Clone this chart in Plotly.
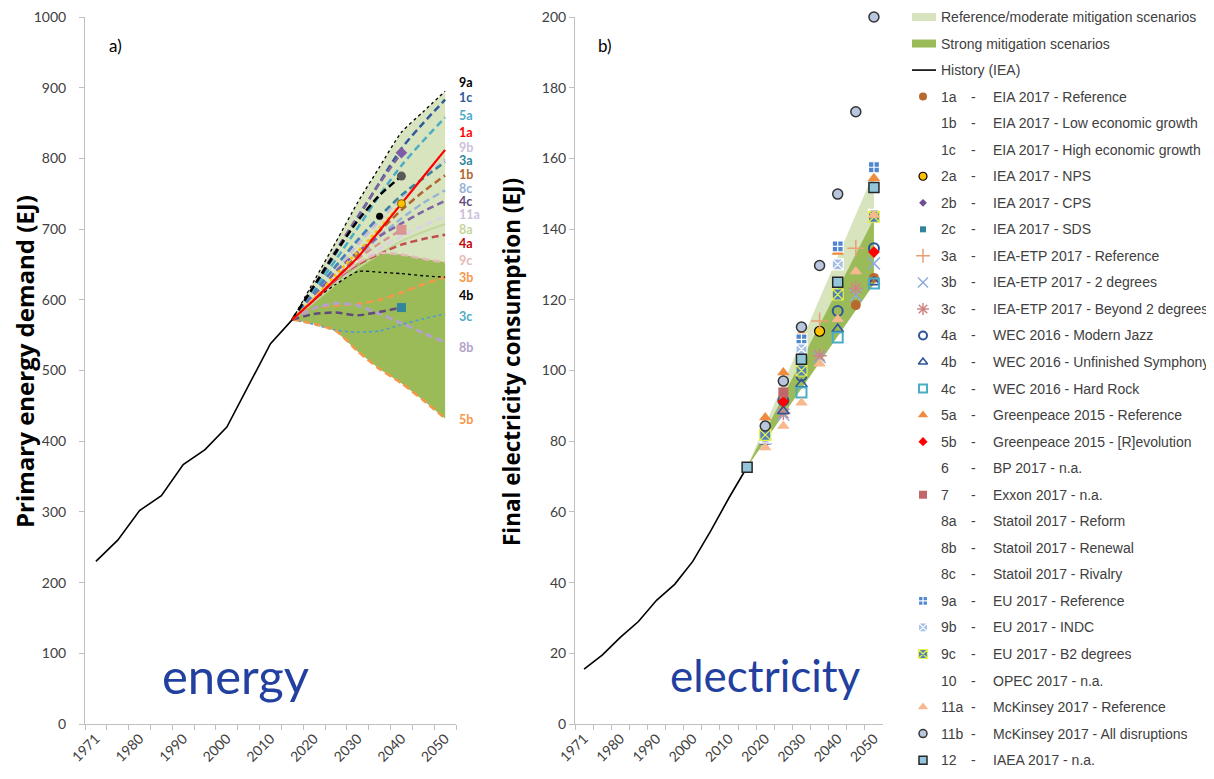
import plotly.graph_objects as go

# ---------------- data ----------------
YEARS = ['1971', '1975', '1980', '1985', '1990', '1995', '2000', '2005', '2010',
         '2015', '2020', '2025', '2030', '2035', '2040', '2045', '2050']
TICK_TEXT = [y if i % 2 == 0 else '' for i, y in enumerate(YEARS)]
HIST_YEARS = YEARS[:10]
HIST_ENERGY = [230, 260, 302, 323, 367, 388, 420, 480, 538, 572]
HIST_ELEC = [15.5, 19.5, 24.5, 29.0, 35.0, 39.5, 46.0, 54.7, 64.0, 72.7]

PROJ_YEARS = ['2015', '2020', '2025', '2030', '2035', '2040', '2045', '2050']

# primary energy demand scenarios (EJ)
E_9a = [572, 627, 682, 738, 788, 837, 866, 895]
E_1c = [572, 618, 666, 716, 766, 814, 850, 883]
E_5a = [572, 614, 657, 702, 748, 790, 825, 858]
E_1a = [572, 600, 630, 660, 698, 736, 774, 812]
E_9b = [572, 605, 642, 678, 712, 745, 772, 799]
E_3a = [572, 610, 648, 685, 718, 748, 772, 795]
E_1b = [572, 598, 630, 664, 697, 727, 753, 776]
E_8c = [572, 600, 630, 660, 690, 715, 737, 755]
E_4c = [572, 605, 640, 668, 690, 708, 725, 740]
E_11a = [572, 598, 625, 650, 672, 690, 705, 718]
E_8a = [572, 597, 622, 645, 665, 683, 696, 707]
E_4a = [572, 600, 628, 650, 665, 678, 686, 692]
E_9c = [572, 603, 630, 652, 666, 664, 658, 653]
E_3b = [572, 588, 592, 594, 600, 610, 622, 632]
E_4b = [572, 600, 622, 640, 639, 637, 634, 632]
E_3c = [572, 565, 557, 554, 556, 565, 573, 580]
E_8b = [572, 588, 595, 592, 580, 567, 553, 540]
E_5b = [572, 566, 556, 527, 502, 482, 458, 432]
E_2a = [572, 602, 636, 668, 702, 736, None, None]
E_2b = [572, 620, 670, 718, 765, 808, None, None]
E_2c = [572, 580, 582, 578, 583, 589, None, None]
E_10 = [572, 620, 668, 712, 748, 775, None, None]
E_6 = [572, 610, 648, 684, 718, None, None, None]
E_7 = [572, 600, 630, 658, 680, 699, None, None]

# final electricity consumption scenarios (EJ)
R_1a = [None, None, None, None, None, None, 118.5, 126.2]
R_2a = [None, None, None, None, 111.1, None, None, None]
R_3a = [None, None, None, None, 114.0, None, 134.6, None]
R_3b = [None, None, 87.5, None, 103.8, None, 121.3, 130.3]
R_3c = [None, None, 88.0, None, 104.2, None, 123.3, None]
R_4a = [None, 80.5, 91.5, 98.5, None, 116.8, None, 134.6]
R_4b = [None, 80.0, 88.5, 96.1, None, 111.7, None, 125.0]
R_4c = [None, None, None, 93.8, None, 109.3, None, 124.6]
R_5a = [None, 86.7, 99.4, 110.5, None, 133.5, None, 154.4]
R_5b = [None, None, 91.2, 100.8, None, None, None, 133.5]
R_7 = [None, None, 93.8, None, None, None, None, None]
R_9a = [None, None, None, 108.8, None, 135.1, None, 157.5]
R_9b = [None, 81.0, None, 106.0, None, 130.0, None, 144.0]
R_9c = [None, 81.8, None, 100.0, None, 121.5, None, 143.5]
R_11a = [None, 78.2, 84.3, 90.9, 101.9, 114.5, 128.0, 144.0]
R_11b = [None, 84.3, 97.0, 112.3, 129.7, 149.9, 173.2, 200.0]
R_12 = [72.6, None, None, 103.2, None, 125.0, None, 151.8]

BAND_YEARS = ['2015', '2050']
R_REF_UPPER = [72.7, 156.0]
R_STRONG_UPPER = [72.7, 143.0]
R_LOWER = [72.7, 124.5]

LEGEND_ITEMS = [
    ('1a', 'EIA 2017 - Reference'), ('1b', 'EIA 2017 - Low economic growth'),
    ('1c', 'EIA 2017 - High economic growth'), ('2a', 'IEA 2017 - NPS'),
    ('2b', 'IEA 2017 - CPS'), ('2c', 'IEA 2017 - SDS'),
    ('3a', 'IEA-ETP 2017 - Reference'), ('3b', 'IEA-ETP 2017 - 2 degrees'),
    ('3c', 'IEA-ETP 2017 - Beyond 2 degrees'), ('4a', 'WEC 2016 - Modern Jazz'),
    ('4b', 'WEC 2016 - Unfinished Symphony'), ('4c', 'WEC 2016 - Hard Rock'),
    ('5a', 'Greenpeace 2015 - Reference'), ('5b', 'Greenpeace 2015 - [R]evolution'),
    ('6', 'BP 2017 - n.a.'), ('7', 'Exxon 2017 - n.a.'),
    ('8a', 'Statoil 2017 - Reform'), ('8b', 'Statoil 2017 - Renewal'),
    ('8c', 'Statoil 2017 - Rivalry'), ('9a', 'EU 2017 - Reference'),
    ('9b', 'EU 2017 - INDC'), ('9c', 'EU 2017 - B2 degrees'),
    ('10', 'OPEC 2017 - n.a.'), ('11a', 'McKinsey 2017 - Reference'),
    ('11b', 'McKinsey 2017 - All disruptions'), ('12', 'IAEA 2017 - n.a.'),
]

# ---------------- layout helpers (page has an 8px body margin) ----------------
W, H = 1206, 771


def px(x):
    return (x - 8) / W


def py(y):
    return 1 - (y - 8) / H


# ---------------- styles ----------------
LIGHT_GREEN = '#D7E4BD'
DARK_GREEN = '#9BBB59'
FONT = 'Lato, Carlito, sans-serif'
TITLE_FONT = 'Open Sans, Lato, sans-serif'
LEG_FONT = 'Liberation Sans, Arial, sans-serif'
DASH = '7px,4px'

LINE_STYLE = {
    '9a': ('#000000', 'dot', 1.3), '1c': ('#2E5A9C', DASH, 2.5), '5a': ('#4BACC6', DASH, 2.5),
    '1a': ('#FF0000', 'solid', 2.2), '9b': ('#CCC0DA', DASH, 2.5), '3a': ('#31859C', DASH, 2.5),
    '1b': ('#B0662E', DASH, 2.5), '8c': ('#95B3D7', DASH, 2.5), '4c': ('#7F63A6', DASH, 2.5),
    '11a': ('#D9D2E9', DASH, 2.5), '8a': ('#C3D69B', 'solid', 2.0), '4a': ('#C0504D', DASH, 2.5),
    '9c': ('#E6B9B8', DASH, 2.5), '3b': ('#F79646', DASH, 2.5), '4b': ('#000000', 'dot', 1.3),
    '3c': ('#4F9BD5', 'dot', 1.6), '8b': ('#B3A2C7', DASH, 3.0), '5b': ('#F79646', DASH, 2.5),
    '2a': ('#FFC000', 'dot', 2.5), '2b': ('#8064A2', DASH, 2.5), '2c': ('#604A7B', DASH, 2.5),
    '10': ('#000000', DASH, 2.5), '6': ('#4F81BD', DASH, 2.2), '7': ('#D99694', DASH, 2.5),
}
ENERGY_SERIES = {
    '9a': E_9a, '1c': E_1c, '5a': E_5a, '9b': E_9b, '3a': E_3a, '1b': E_1b, '8c': E_8c,
    '4c': E_4c, '11a': E_11a, '8a': E_8a, '4a': E_4a, '9c': E_9c, '3b': E_3b, '4b': E_4b,
    '3c': E_3c, '8b': E_8b, '5b': E_5b, '2b': E_2b, '2c': E_2c, '7': E_7, '6': E_6,
    '10': E_10, '2a': E_2a, '1a': E_1a,
}

MARKERS = {
    '1a': dict(symbol='circle', color='#B7692F', size=10),
    '2a': dict(symbol='circle', color='#FFC000', size=10, line=dict(color='#000000', width=1.2)),
    '2b': dict(symbol='diamond', color='#6C4F93', size=10),
    '2c': dict(symbol='square', color='#31859C', size=9),
    '3a': dict(symbol='cross-thin-open', color='#E8A070', size=12, line=dict(color='#E8A070', width=1.5)),
    '3b': dict(symbol='x-thin-open', color='#8FAADC', size=12, line=dict(color='#8FAADC', width=1.5)),
    '3c': dict(symbol='asterisk-open', color='#D08585', size=12, line=dict(color='#D08585', width=1.5)),
    '4a': dict(symbol='circle-open', color='#2F5597', size=10, line=dict(color='#2F5597', width=2)),
    '4b': dict(symbol='triangle-up-open', color='#2F5597', size=10, line=dict(color='#2F5597', width=1.6)),
    '4c': dict(symbol='square-open', color='#4BACC6', size=10, line=dict(color='#4BACC6', width=2)),
    '5a': dict(symbol='triangle-up', color='#F08A3C', size=11),
    '5b': dict(symbol='diamond', color='#FF0000', size=9),
    '7': dict(symbol='square', color='#C0676A', size=10),
    '9a': dict(symbol='square-cross', color='#4F86CF', size=11, line=dict(color='#FFFFFF', width=1.2)),
    '9b': dict(symbol='square-x', color='#A4BFE4', size=11, line=dict(color='#FFFFFF', width=1.2)),
    '9c': dict(symbol='square-x', color='#4F81BD', size=11, line=dict(color='#E8F04A', width=1.2)),
    '11a': dict(symbol='triangle-up', color='#F8B88E', size=11),
    '11b': dict(symbol='circle', color='#B8C6DE', size=10, line=dict(color='#333333', width=1.5)),
    '12': dict(symbol='square', color='#93C6DA', size=10, line=dict(color='#262626', width=1.5)),
}
ELEC_SERIES = {
    '1a': R_1a, '2a': R_2a, '3a': R_3a, '3b': R_3b, '3c': R_3c, '4a': R_4a, '4b': R_4b,
    '4c': R_4c, '5a': R_5a, '5b': R_5b, '7': R_7, '9a': R_9a, '9b': R_9b, '9c': R_9c,
    '11a': R_11a, '11b': R_11b, '12': R_12,
}

fig = go.Figure()

# ---------------- left panel (energy) ----------------
fig.add_trace(go.Scatter(x=PROJ_YEARS, y=E_5b, mode='lines', line=dict(width=0),
                         hoverinfo='skip', xaxis='x', yaxis='y'))
fig.add_trace(go.Scatter(x=PROJ_YEARS, y=E_9a, mode='lines', line=dict(width=0),
                         fill='tonexty', fillcolor=LIGHT_GREEN, xaxis='x', yaxis='y'))
fig.add_trace(go.Scatter(x=PROJ_YEARS, y=E_5b, mode='lines', line=dict(width=0),
                         hoverinfo='skip', xaxis='x', yaxis='y'))
fig.add_trace(go.Scatter(x=PROJ_YEARS, y=E_9c, mode='lines', line=dict(width=0),
                         fill='tonexty', fillcolor=DARK_GREEN, xaxis='x', yaxis='y'))

for key, vals in ENERGY_SERIES.items():
    col, dash, w = LINE_STYLE[key]
    fig.add_trace(go.Scatter(x=PROJ_YEARS, y=vals, mode='lines', name=key,
                             line=dict(color=col, dash=dash, width=w, shape='spline', smoothing=0.6),
                             connectgaps=False, xaxis='x', yaxis='y'))

fig.add_trace(go.Scatter(x=HIST_YEARS, y=HIST_ENERGY, mode='lines', name='History (IEA)',
                         line=dict(color='#000000', width=1.6), xaxis='x', yaxis='y'))

# end markers in left panel
END_MARKERS = [
    ('2b', '2040', E_2b[5], dict(symbol='diamond', color='#7B5EA7', size=9)),
    ('10', '2040', E_10[5], dict(symbol='circle', color='#595959', size=9)),
    ('2a', '2040', E_2a[5], dict(symbol='circle', color='#FFC000', size=8, line=dict(color='#7F6000', width=1))),
    ('6', '2035', E_6[4], dict(symbol='circle', color='#000000', size=7)),
    ('7', '2040', E_7[5], dict(symbol='square', color='#D99694', size=10)),
    ('2c', '2040', E_2c[5], dict(symbol='square', color='#31859C', size=9)),
]
for key, xv, yv, mk in END_MARKERS:
    fig.add_trace(go.Scatter(x=[xv], y=[yv], mode='markers', marker=mk, xaxis='x', yaxis='y'))

# ---------------- right panel (electricity) ----------------
fig.add_trace(go.Scatter(x=BAND_YEARS, y=R_LOWER, mode='lines', line=dict(width=0),
                         xaxis='x2', yaxis='y2'))
fig.add_trace(go.Scatter(x=BAND_YEARS, y=R_REF_UPPER, mode='lines', line=dict(width=0),
                         fill='tonexty', fillcolor=LIGHT_GREEN, xaxis='x2', yaxis='y2'))
fig.add_trace(go.Scatter(x=BAND_YEARS, y=R_LOWER, mode='lines', line=dict(width=0),
                         xaxis='x2', yaxis='y2'))
fig.add_trace(go.Scatter(x=BAND_YEARS, y=R_STRONG_UPPER, mode='lines', line=dict(width=0),
                         fill='tonexty', fillcolor=DARK_GREEN, xaxis='x2', yaxis='y2'))
fig.add_trace(go.Scatter(x=HIST_YEARS, y=HIST_ELEC, mode='lines',
                         line=dict(color='#000000', width=1.6), xaxis='x2', yaxis='y2'))
for key, vals in ELEC_SERIES.items():
    fig.add_trace(go.Scatter(x=PROJ_YEARS, y=vals, mode='markers', name=key,
                             marker=MARKERS[key], xaxis='x2', yaxis='y2', cliponaxis=False))

# ---------------- legend panel ----------------
LX_MARK, LX_CODE, LX_DASH, LX_NAME = 18, 34, 68, 86
fig.add_trace(go.Scatter(x=[7, 31], y=[0, 0], mode='lines', line=dict(color=LIGHT_GREEN, width=8),
                         xaxis='x3', yaxis='y3'))
fig.add_trace(go.Scatter(x=[7, 31], y=[1, 1], mode='lines', line=dict(color=DARK_GREEN, width=8),
                         xaxis='x3', yaxis='y3'))
fig.add_trace(go.Scatter(x=[7, 31], y=[2, 2], mode='lines', line=dict(color='#000000', width=1.6),
                         xaxis='x3', yaxis='y3'))
LEG_MARKER_OVERRIDE = {'2b': dict(symbol='diamond', color='#6C4F93', size=8),
                       '2c': dict(symbol='square', color='#31859C', size=8)}
for i, (code, name) in enumerate(LEGEND_ITEMS):
    mk = LEG_MARKER_OVERRIDE.get(code, MARKERS.get(code))
    if mk is not None:
        m = dict(mk)
        m['size'] = max(6, m['size'] - 2)
        fig.add_trace(go.Scatter(x=[LX_MARK], y=[i + 3], mode='markers', marker=m,
                                 xaxis='x3', yaxis='y3'))

annotations = []
leg_font = dict(family=LEG_FONT, size=14, color='#404040')
for i, txt in enumerate(['Reference/moderate mitigation scenarios', 'Strong mitigation scenarios',
                         'History (IEA)']):
    annotations.append(dict(x=LX_CODE, y=i, xref='x3', yref='y3', text=txt, showarrow=False,
                            xanchor='left', yanchor='middle', font=leg_font))
for i, (code, name) in enumerate(LEGEND_ITEMS):
    for xx, txt in ((LX_CODE, code), (LX_DASH, '-'), (LX_NAME, name)):
        annotations.append(dict(x=xx, y=i + 3, xref='x3', yref='y3', text=txt, showarrow=False,
                                xanchor='left' if txt != '-' else 'center', yanchor='middle',
                                font=leg_font))

# right-hand labels in left panel
END_LABELS = [
    ('9a', '#000000', 907), ('1c', '#2E5A9C', 886), ('5a', '#4BACC6', 861), ('1a', '#FF0000', 837),
    ('9b', '#CCC0DA', 816), ('3a', '#31859C', 797), ('1b', '#B0662E', 777), ('8c', '#95B3D7', 758),
    ('4c', '#604A7B', 739), ('11a', '#CCC0DA', 720), ('8a', '#C3D69B', 700), ('4a', '#C00000', 680),
    ('9c', '#E6B9B8', 655), ('3b', '#F79646', 631), ('4b', '#000000', 606), ('3c', '#4BACC6', 576),
    ('8b', '#B3A2C7', 532), ('5b', '#F79646', 431),
]
for code, col, yv in END_LABELS:
    annotations.append(dict(x=px(457), y=yv, xref='paper', yref='y', text='<b>%s</b>' % code,
                            showarrow=False, xanchor='left', yanchor='middle',
                            font=dict(family=FONT, size=12.5, color=col)))
INLINE_LABELS = [('2b', '2040', E_2b[5], 9, 0), ('10', '2040', E_10[5], 9, -2),
                 ('2a', '2040', E_2a[5], 12, 9), ('6', '2035', E_6[4], 14, -1),
                 ('7', '2040', E_7[5], 9, 1), ('2c', '2040', E_2c[5], 11, 0)]
for code, xv, yv, xs, ys in INLINE_LABELS:
    annotations.append(dict(x=xv, y=yv, xref='x', yref='y', text='<b>%s</b>' % code, showarrow=False,
                            xanchor='left', yanchor='middle', xshift=xs, yshift=ys,
                            font=dict(family=FONT, size=14, color='#000000')))


def center_text(x, y, text, size, family=FONT, color='#000000', angle=0):
    return dict(x=px(x), y=py(y), xref='paper', yref='paper', text=text, showarrow=False,
                xanchor='center', yanchor='middle', textangle=angle,
                font=dict(family=family, size=size, color=color))


annotations += [
    center_text(25, 362, '<b>Primary energy demand (EJ)</b>', 24, TITLE_FONT, angle=-90),
    center_text(512, 362, '<b>Final electricity consumption (EJ)</b>', 22.5, TITLE_FONT, angle=-90),
    center_text(115, 45, 'a)', 17),
    center_text(605, 45, 'b)', 17),
    center_text(235, 675, 'energy', 49, color='#2140A0'),
    center_text(765, 675, 'electricity', 44, color='#2140A0'),
]

axis_common = dict(showline=True, linecolor='#BFBFBF', linewidth=1, ticks='outside', ticklen=5,
                   tickcolor='#BFBFBF', showgrid=False, zeroline=False, automargin=False,
                   ticklabeloverflow='allow',
                   tickfont=dict(family=FONT, size=14, color='#404040'))
x_common = dict(axis_common, type='category', categoryorder='array', categoryarray=YEARS,
                tickmode='array', tickvals=YEARS, ticktext=TICK_TEXT, tickson='boundaries',
                tickangle=-45, range=[-0.5, 16.5])

fig.update_layout(
    width=W, height=H, autosize=False,
    margin=dict(l=0, r=0, t=0, b=0, pad=0, autoexpand=False),
    paper_bgcolor='#FFFFFF', plot_bgcolor='rgba(0,0,0,0)', showlegend=False,
    xaxis=dict(x_common, domain=[px(85), px(456)], anchor='y'),
    yaxis=dict(axis_common, domain=[py(724), py(17)], range=[0, 1000], dtick=100,
               anchor='x', ticklabelstandoff=10),
    xaxis2=dict(x_common, domain=[px(575), px(883)], anchor='y2'),
    yaxis2=dict(axis_common, domain=[py(724), py(17)], range=[0, 200], dtick=20,
                anchor='x2', ticklabelstandoff=0),
    xaxis3=dict(domain=[px(905), 1], range=[0, 309], visible=False, anchor='y3', automargin=False),
    yaxis3=dict(domain=[0, 1], range=[28.71, -0.339], visible=False, anchor='x3', automargin=False),
    annotations=annotations,
    hovermode=False,
)

fig.write_html('out.html')
